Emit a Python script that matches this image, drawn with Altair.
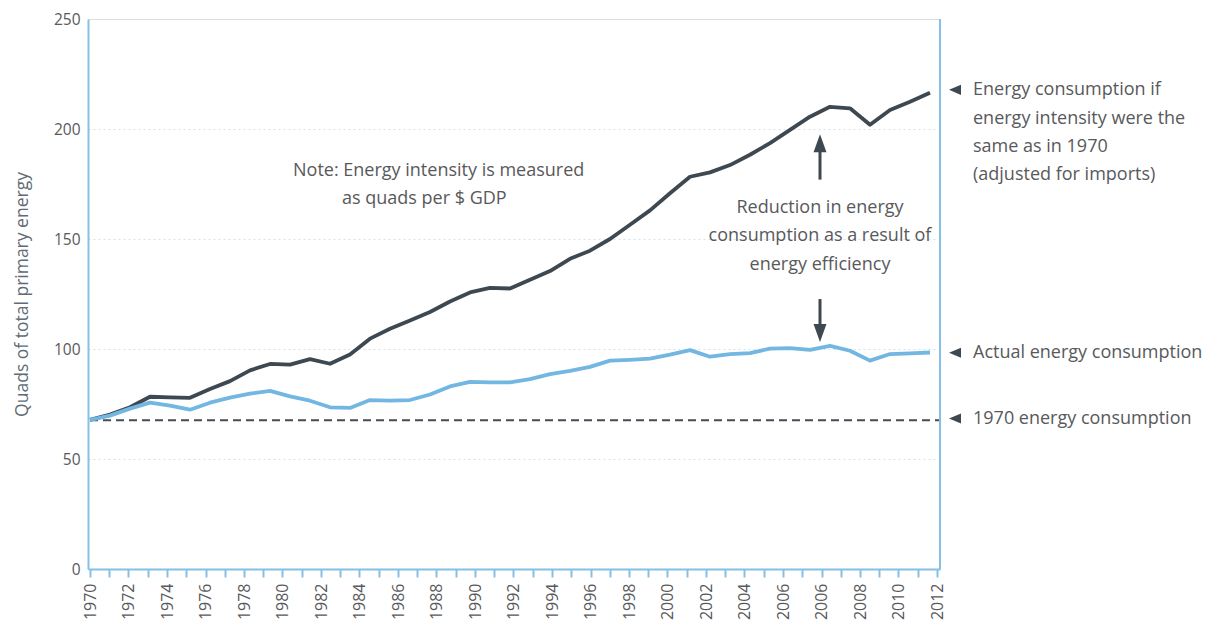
import altair as alt
import pandas as pd

# ---------------- data ----------------
years = list(range(1970, 2013))

constant_intensity = [
    67.8, 70.2, 73.5, 78.3, 78.0, 77.8, 81.8, 85.4, 90.3, 93.2,
    92.9, 95.4, 93.3, 97.5, 104.7, 109.2, 113.0, 116.8, 121.6, 125.7,
    127.8, 127.5, 131.5, 135.4, 141.0, 144.7, 150.0, 156.5, 163.0, 170.8,
    178.3, 180.3, 183.6, 188.3, 193.6, 199.6, 205.6, 210.1, 209.4, 201.9,
    208.6, 212.4, 216.5,
]

actual = [
    67.8, 69.7, 72.9, 75.6, 74.3, 72.4, 75.6, 77.9, 79.7, 81.0,
    78.5, 76.5, 73.5, 73.2, 76.8, 76.5, 76.8, 79.3, 83.0, 85.1,
    84.8, 84.8, 86.3, 88.6, 90.1, 91.9, 94.7, 95.1, 95.6, 97.4,
    99.5, 96.5, 97.7, 98.1, 100.2, 100.4, 99.6, 101.4, 99.2, 94.7,
    97.7, 98.0, 98.4,
]

baseline_1970 = 67.6

# tick labels exactly as printed on the reference axis (one label every other tick)
tick_labels = ["1970", "1972", "1974", "1976", "1978", "1980", "1982", "1984",
               "1986", "1988", "1990", "1992", "1994", "1996", "1998", "2000",
               "2002", "2004", "2006", "2006", "2008", "2010", "2012"]
n_ticks = 45
tick_step = 0.9625
y_ticks = [0, 50, 100, 150, 200, 250]

X_DOMAIN = [1969.9, 2012.5]
Y_DOMAIN = [0, 250]

series_names = ["Energy consumption if energy intensity were the same as in 1970",
                "Actual energy consumption"]
series_colors = ["#3e4851", "#72b6e2"]

# annotations (y = first text line)
right_labels = [
    "Energy consumption if\nenergy intensity were the\nsame as in 1970\n(adjusted for imports)",
    "Actual energy consumption",
    "1970 energy consumption",
]
right_label_y = [217.6, 98.3, 68.4]
right_marker_y = [217.8, 98.3, 68.4]
right_label_x = 2014.15
right_marker_x = 2013.25

note_lines = ["Note: Energy intensity is measured", "as quads per $ GDP"]
note_x = [1980.15, 1982.6]
note_y = [181.0, 168.4]

reduction_text = "Reduction in energy\nconsumption as a result of\nenergy efficiency"
reduction_x = 2006.5
reduction_y = 164.2

arrow_up_shaft = [177.0, 191.0]
arrow_up_head = 193.5
arrow_down_shaft = [122.7, 110.0]
arrow_down_head = 107.3

TEXT_COLOR = "#58595b"
AXIS_BLUE = "#86c0e6"
GRID_BLUE = "#cfe3f2"
FONT = "Open Sans"
FS = 18

# ---------------- tables ----------------
lines_df = pd.DataFrame({
    "year": years * 2,
    "value": constant_intensity + actual,
    "series": [series_names[0]] * len(years) + [series_names[1]] * len(years),
})
base_df = pd.DataFrame({"year": [1970, X_DOMAIN[1]], "value": [baseline_1970, baseline_1970]})
right_text_df = pd.DataFrame({"x": [right_label_x] * 3, "y": right_label_y, "text": right_labels})
right_mark_df = pd.DataFrame({"x": [right_marker_x] * 3, "y": right_marker_y})
note_df = pd.DataFrame({"x": note_x, "y": note_y, "text": note_lines})
red_df = pd.DataFrame({"x": [reduction_x], "y": [reduction_y], "text": [reduction_text]})
shaft_df = pd.DataFrame({"x": [reduction_x] * 2,
                         "y": [arrow_up_shaft[0], arrow_down_shaft[0]],
                         "y2": [arrow_up_shaft[1], arrow_down_shaft[1]]})
head_up_df = pd.DataFrame({"x": [reduction_x], "y": [arrow_up_head]})
head_down_df = pd.DataFrame({"x": [reduction_x], "y": [arrow_down_head]})

tick_values = [round(1970 + i * tick_step, 4) for i in range(n_ticks)]
arr = "[" + ",".join("'" + t + "'" for t in tick_labels) + "]"
idx = f"round((datum.value-1970)/{tick_step})"
label_expr = f"({idx} % 2 == 0) ? {arr}[{idx}/2] : ''"

xscale = alt.Scale(domain=X_DOMAIN, nice=False, zero=False)
yscale = alt.Scale(domain=Y_DOMAIN, nice=False)

x_axis = alt.Axis(values=tick_values, tickCount=n_ticks + 5, labelExpr=label_expr,
                  labelAngle=270, labelFontSize=16, labelColor=TEXT_COLOR, labelPadding=6,
                  labelOverlap=False, labelSeparation=0, labelFlush=False, grid=False,
                  domainColor=AXIS_BLUE, domainWidth=2, tickColor=AXIS_BLUE,
                  tickWidth=2, tickSize=8, title=None)
y_axis = alt.Axis(values=y_ticks, labelFontSize=15.5, labelColor=TEXT_COLOR,
                  labelPadding=8, ticks=False, grid=True, gridColor=GRID_BLUE,
                  gridDash=[2, 3], gridWidth=1, domainColor=AXIS_BLUE, domainWidth=2,
                  title="Quads of total primary energy", titleFontSize=17.5,
                  titleFontWeight="normal", titleColor="#5f6b75", titlePadding=22)

lines = alt.Chart(lines_df).mark_line(strokeWidth=3.8, strokeJoin="round").encode(
    x=alt.X("year:Q", scale=xscale, axis=x_axis),
    y=alt.Y("value:Q", scale=yscale, axis=y_axis),
    color=alt.Color("series:N", scale=alt.Scale(domain=series_names, range=series_colors), legend=None),
)

base = alt.Chart(base_df).mark_line(strokeWidth=2, strokeDash=[8, 5], color="#444c54").encode(
    x="year:Q", y="value:Q")

right_border = alt.Chart(pd.DataFrame({"x": [X_DOMAIN[1]]})).mark_rule(
    color=AXIS_BLUE, strokeWidth=2).encode(x="x:Q")

right_text = alt.Chart(right_text_df).mark_text(
    align="left", baseline="middle", fontSize=FS, color=TEXT_COLOR, lineBreak="\n",
    lineHeight=28.3, font=FONT).encode(x="x:Q", y="y:Q", text="text:N")

right_marks = alt.Chart(right_mark_df).mark_point(
    shape="M-1,0L1,-0.85L1,0.85Z", filled=True, size=144, opacity=1,
    color="#3e4851").encode(x="x:Q", y="y:Q")

note = alt.Chart(note_df).mark_text(
    align="left", baseline="middle", fontSize=FS, color=TEXT_COLOR, font=FONT).encode(
    x="x:Q", y="y:Q", text="text:N")

red = alt.Chart(red_df).mark_text(
    align="center", baseline="middle", fontSize=FS, color=TEXT_COLOR, lineBreak="\n",
    lineHeight=28.5, font=FONT).encode(x="x:Q", y="y:Q", text="text:N")

shafts = alt.Chart(shaft_df).mark_rule(strokeWidth=3, color="#3e4851").encode(
    x="x:Q", y="y:Q", y2="y2:Q")
head_up = alt.Chart(head_up_df).mark_point(
    shape="M0,-1L0.72,1L-0.72,1Z", filled=True, size=324, opacity=1,
    color="#3e4851").encode(x="x:Q", y="y:Q")
head_down = alt.Chart(head_down_df).mark_point(
    shape="M0,1L0.72,-1L-0.72,-1Z", filled=True, size=324, opacity=1,
    color="#3e4851").encode(x="x:Q", y="y:Q")

chart = alt.layer(
    base, lines, right_border, shafts, head_up, head_down,
    note, red, right_marks, right_text,
).properties(
    width=852, height=550, autosize="none",
    padding={"left": 80, "top": 11, "right": 262, "bottom": 52},
).configure_view(stroke=None).configure(font=FONT).configure_axisX(
    labelOverlap=False, labelSeparation=0)

chart.save("out.html", embed_options={"renderer": "svg", "actions": False})
